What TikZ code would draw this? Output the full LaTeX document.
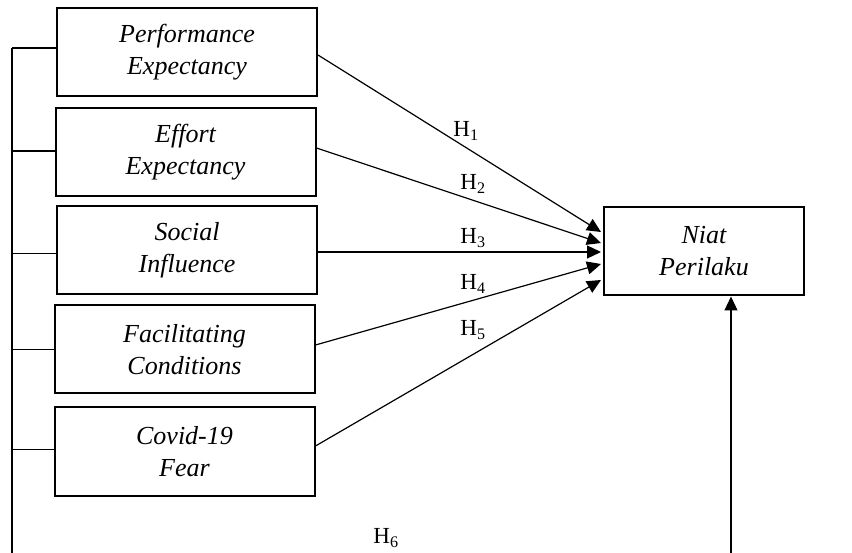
\documentclass[tikz,border=0pt]{standalone}
\usepackage{fontspec}
\setmainfont{Liberation Serif}
\usetikzlibrary{arrows.meta}
\begin{document}
\begin{tikzpicture}[x=1pt,y=-1pt,
  varbox/.style={draw,line width=2pt,minimum width=260pt,minimum height=88pt,align=center,inner sep=0pt,
    font=\fontsize{26}{32}\selectfont\itshape},
  conn/.style={line width=1.2pt},
  arr/.style={conn,-{Triangle[length=14pt,width=13pt]}},
  hlab/.style={font=\fontsize{23}{23}\selectfont,inner sep=0pt}]
\useasboundingbox (0,0) rectangle (852,553);
\node[varbox] (b1) at (187,52) {Performance\\Expectancy};
\node[varbox] (b2) at (185.5,152) {Effort\\Expectancy};
\node[varbox] (b3) at (187,250.5) {Social\\Influence};
\node[varbox] (b4) at (184.5,349.5) {Facilitating\\Conditions};
\node[varbox] (b5) at (184.5,451.5) {Covid-19\\Fear};
\node[varbox,minimum width=200pt] (n) at (704,251.5) {Niat\\Perilaku};
\coordinate (lb) at (12,553);
\coordinate (rb) at (731,553);
\draw[conn] ([yshift=4pt]b1.west -| lb) -- (lb);
\foreach \b/\s in {b1/4pt,b2/1pt,b3/-3pt,b4/0pt,b5/2pt}{
  \draw[conn] ([yshift=\s]\b.west) -- ([yshift=\s]\b.west -| lb);
}
\draw[arr] ([yshift=-3pt]b1.east) -- ([xshift=-2pt,yshift=19.5pt]n.west);
\draw[arr] ([yshift=4pt]b2.east) -- ([xshift=-2pt,yshift=8.5pt]n.west);
\draw[arr] ([yshift=-1.5pt]b3.east) -- ([xshift=-2pt,yshift=-0.5pt]n.west);
\draw[arr] ([yshift=4.5pt]b4.east) -- ([xshift=-2pt,yshift=-12.5pt]n.west);
\draw[arr] ([yshift=5.5pt]b5.east) -- ([xshift=-2pt,yshift=-28.5pt]n.west);
\draw[arr] (rb) -- (rb |- n.south);
\node[hlab] (h1) at (466,131) {H\textsubscript{1}};
\node[hlab] (h2) at (473,184) {H\textsubscript{2}};
\node[hlab] (h3) at (473,238) {H\textsubscript{3}};
\node[hlab] (h4) at (473,284) {H\textsubscript{4}};
\node[hlab] (h5) at (473,330) {H\textsubscript{5}};
\node[hlab] (h6) at (386,538) {H\textsubscript{6}};
\end{tikzpicture}
\end{document}
